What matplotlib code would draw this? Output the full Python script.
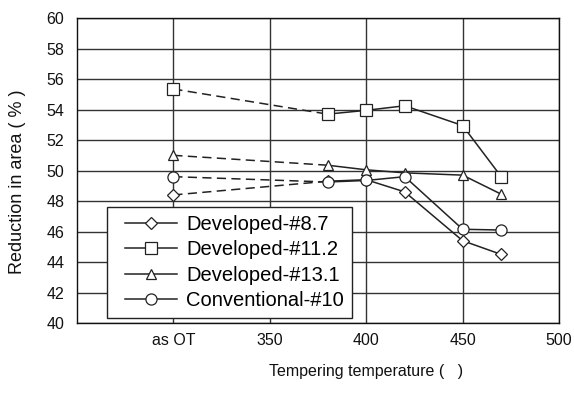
import matplotlib
matplotlib.use("Agg")
import matplotlib.pyplot as plt
from matplotlib.legend_handler import HandlerLine2D

plt.rcParams['font.family'] = ['Liberation Sans', 'DejaVu Sans']

temps = [300, 380, 400, 420, 450, 470]
xtick_vals = [300, 350, 400, 450, 500]
xtick_labels = ["as OT", "350", "400", "450", "500"]

dev_8_7 = [48.4, 49.3, 49.4, 48.6, 45.4, 44.5]
dev_11_2 = [55.35, 53.7, 53.95, 54.25, 52.95, 49.6]
dev_13_1 = [51.0, 50.35, 50.05, 49.85, 49.7, 48.45]
conv_10 = [49.6, 49.25, 49.35, 49.6, 46.15, 46.1]

labels = ["Developed-#8.7", "Developed-#11.2", "Developed-#13.1", "Conventional-#10"]
markers = ["D", "s", "^", "o"]
sizes = [6.5, 8, 7.5, 8]
series = [dev_8_7, dev_11_2, dev_13_1, conv_10]

fig = plt.figure(figsize=(5.74, 3.93), dpi=100)
ax = fig.add_axes([0.134, 0.178, 0.840, 0.776])

lc = '#222222'
handles = []
for ys, m, ms, lab in zip(series, markers, sizes, labels):
    ax.plot(temps[:2], ys[:2], color=lc, lw=1.1, ls=(0, (6, 3.5)), zorder=3)
    ax.plot(temps[1:], ys[1:], color=lc, lw=1.1, zorder=3)
    ax.plot(temps, ys, ls='none', marker=m, ms=ms, mfc='white', mec=lc, mew=0.9, zorder=4)
    handles.append(plt.Line2D([], [], color=lc, lw=1.1, marker=m, ms=ms, mfc='white', mec=lc, mew=0.9, label=lab))

ax.set_xlim(250, 500)
ax.set_ylim(40, 60)
ax.set_yticks(range(40, 61, 2))
ax.set_xticks(xtick_vals)
ax.set_xticklabels(xtick_labels)
ax.tick_params(length=0, labelsize=11.5, colors='#111111')
ax.tick_params(axis='y', pad=9)
ax.tick_params(axis='x', pad=7)
ax.grid(True, color='#333333', lw=1.0)
ax.set_axisbelow(True)
for s in ax.spines.values():
    s.set_color('#111111')
    s.set_linewidth(1.0)

ax.set_xlabel("Tempering temperature (   )", fontsize=11.5, color='#111111')
ax.xaxis.set_label_coords(0.60, -0.135)
ax.set_ylabel("Reduction in area ( % )", fontsize=13, color='#111111')
ax.yaxis.set_label_coords(-0.106, 0.462)

hm = {h: HandlerLine2D(xpad=0.5) for h in handles}
leg = ax.legend(handles=handles, loc='lower left', bbox_to_anchor=(0.062, 0.016),
                borderaxespad=0, fontsize=14.5, handlelength=3.1, frameon=True,
                fancybox=False, edgecolor='#222222', framealpha=1,
                labelspacing=0.32, borderpad=0.4, handletextpad=0.45,
                handler_map=hm)
leg.get_frame().set_linewidth(1.0)

fig.savefig("out.png", dpi=100)
